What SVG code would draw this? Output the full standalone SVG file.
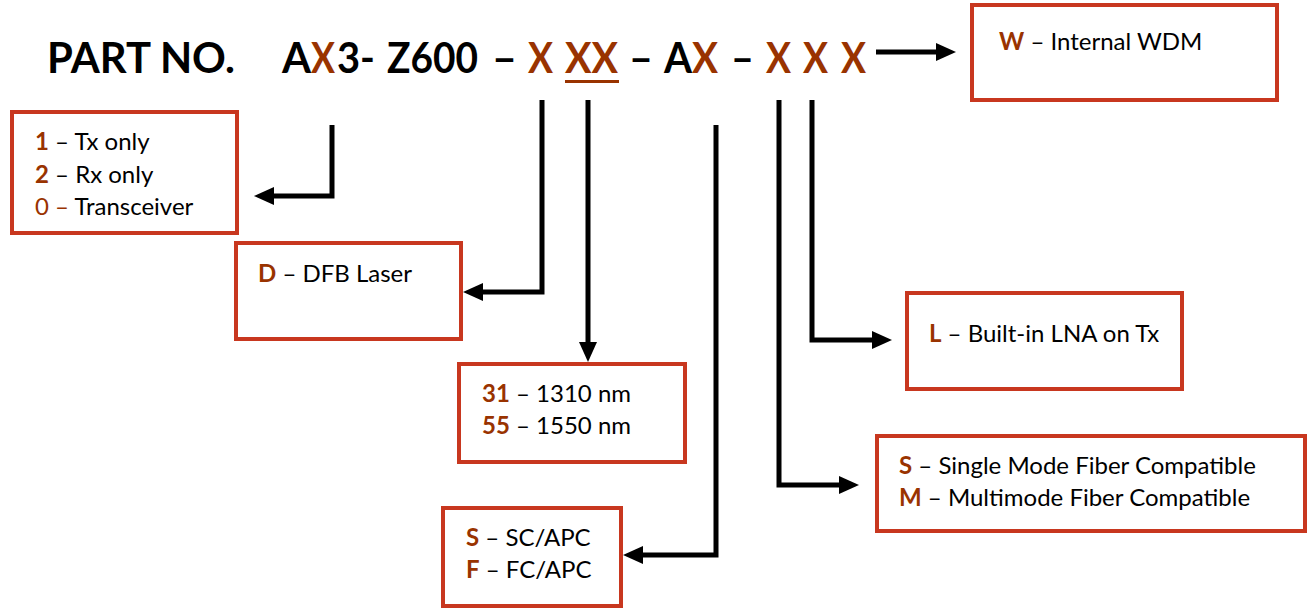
<svg xmlns="http://www.w3.org/2000/svg" width="1307" height="609" viewBox="0 0 1307 609">
<defs>
<style>
.box{fill:#fff;stroke:#C8371F;stroke-width:4}
.t{font-family:Lato,"Open Sans",sans-serif;font-size:24px;fill:#000}
.b{fill:#993300;font-weight:bold}
.br{fill:#993300}
.h{font-family:Lato,"Open Sans",sans-serif;font-size:42px;font-weight:bold;fill:#000}
.hx{fill:#993300}
.c{fill:none;stroke:#000;stroke-width:5}
</style>
<marker id="ah2" viewBox="0 0 20 20" refX="2" refY="10" markerWidth="20" markerHeight="20" orient="auto" markerUnits="userSpaceOnUse">
<path d="M0,1 L20,10 L0,19 z" fill="#000"/>
</marker>
</defs>
<rect width="1307" height="609" fill="#fff"/>
<g id="header">
<text class="h" x="47" y="73" textLength="188" lengthAdjust="spacingAndGlyphs">PART NO.</text>
<text class="h" x="282" y="73" textLength="29" lengthAdjust="spacingAndGlyphs">A</text>
<text class="h hx" x="311" y="73" textLength="24" lengthAdjust="spacingAndGlyphs">X</text>
<text class="h" x="337" y="73" textLength="38" lengthAdjust="spacingAndGlyphs">3-</text>
<text class="h" x="387" y="73" textLength="91" lengthAdjust="spacingAndGlyphs">Z600</text>
<text class="h" x="492" y="73" textLength="25" lengthAdjust="spacingAndGlyphs">–</text>
<text class="h hx" x="528" y="73" textLength="25" lengthAdjust="spacingAndGlyphs">X</text>
<text class="h hx" x="565" y="73" textLength="53" lengthAdjust="spacingAndGlyphs">XX</text>
<rect x="565" y="80" width="54" height="3" fill="#993300"/>
<text class="h" x="629" y="73" textLength="24" lengthAdjust="spacingAndGlyphs">–</text>
<text class="h" x="664" y="73" textLength="28" lengthAdjust="spacingAndGlyphs">A</text>
<text class="h hx" x="692" y="73" textLength="26" lengthAdjust="spacingAndGlyphs">X</text>
<text class="h" x="731" y="73" textLength="23" lengthAdjust="spacingAndGlyphs">–</text>
<text class="h hx" x="766" y="73" textLength="25" lengthAdjust="spacingAndGlyphs">X</text>
<text class="h hx" x="803" y="73" textLength="25" lengthAdjust="spacingAndGlyphs">X</text>
<text class="h hx" x="841" y="73" textLength="25" lengthAdjust="spacingAndGlyphs">X</text>
</g>
<g id="connectors">
<path class="c" d="M876,52 H938" marker-end="url(#ah2)"/>
<path class="c" d="M332,125 V196 H272" marker-end="url(#ah2)"/>
<path class="c" d="M542,100 V292 H481" marker-end="url(#ah2)"/>
<path class="c" d="M588,100 V344" marker-end="url(#ah2)"/>
<path class="c" d="M716,125 V555 H641" marker-end="url(#ah2)"/>
<path class="c" d="M779,100 V485 H841" marker-end="url(#ah2)"/>
<path class="c" d="M812,100 V340 H874" marker-end="url(#ah2)"/>
</g>
<g id="node-w">
<rect class="box" x="972" y="5" width="305" height="95"/>
<text class="t" x="999" y="50"><tspan class="b">W</tspan> – Internal WDM</text>
</g>
<g id="node-1">
<rect class="box" x="12" y="112" width="225" height="121"/>
<text class="t" x="35" y="150"><tspan class="b">1</tspan> – Tx only</text>
<text class="t" x="35" y="183"><tspan class="b">2</tspan> – Rx only</text>
<text class="t" x="35" y="215"><tspan class="br">0 –</tspan> Transceiver</text>
</g>
<g id="node-d">
<rect class="box" x="236" y="243" width="225" height="96"/>
<text class="t" x="258" y="282"><tspan class="b">D</tspan> – DFB Laser</text>
</g>
<g id="node-31">
<rect class="box" x="459" y="364" width="226" height="98"/>
<text class="t" x="482" y="402"><tspan class="b">31</tspan> – 1310 nm</text>
<text class="t" x="482" y="434"><tspan class="b">55</tspan> – 1550 nm</text>
</g>
<g id="node-sf">
<rect class="box" x="443" y="508" width="178" height="98"/>
<text class="t" x="466" y="546"><tspan class="b">S</tspan> – SC/APC</text>
<text class="t" x="466" y="578"><tspan class="b">F</tspan> – FC/APC</text>
</g>
<g id="node-l">
<rect class="box" x="907" y="293" width="275" height="96"/>
<text class="t" x="929" y="342"><tspan class="b">L</tspan> – Built-in LNA on Tx</text>
</g>
<g id="node-sm">
<rect class="box" x="877" y="436" width="428" height="95"/>
<text class="t" x="899" y="474"><tspan class="b">S</tspan> – Single Mode Fiber Compatible</text>
<text class="t" x="899" y="506"><tspan class="b">M</tspan> – Multimode Fiber Compatible</text>
</g>
</svg>
